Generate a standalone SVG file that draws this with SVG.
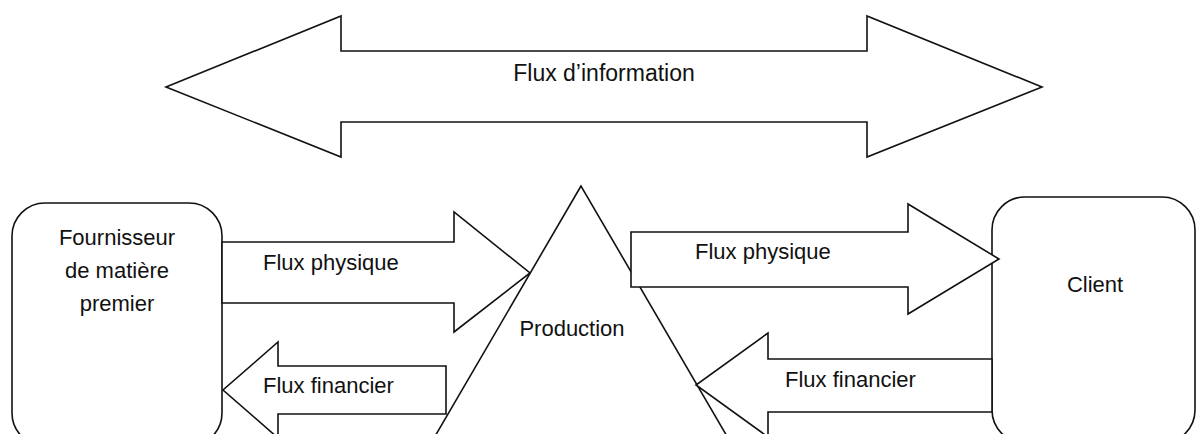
<svg xmlns="http://www.w3.org/2000/svg" width="1197" height="434" viewBox="0 0 1197 434">
<style>
.shape{fill:#fff;stroke:#111;stroke-width:1.6;stroke-linejoin:miter}
.lbl{font-family:"Liberation Sans",Arial,sans-serif;font-size:22px;fill:#111}
.mid{text-anchor:middle}
</style>
<rect width="1197" height="434" fill="#fff"/>
<g id="production">
<polygon class="shape" points="581,186 406,486 756,486"/>
<text class="lbl mid" x="572" y="336">Production</text>
</g>
<g id="fournisseur">
<rect class="shape" x="12" y="203" width="210" height="243" rx="33" ry="33"/>
<text class="lbl mid" x="117" y="245">Fournisseur</text>
<text class="lbl mid" x="117" y="278">de matière</text>
<text class="lbl mid" x="117" y="311">premier</text>
</g>
<g id="client">
<rect class="shape" x="992" y="197" width="203" height="246" rx="33" ry="33"/>
<text class="lbl mid" x="1095" y="292">Client</text>
</g>
<g id="connectors">
<g id="flux-information">
<polygon class="shape" points="166,87 341,16 341,51 867,51 867,16 1042,87 867,157 867,122 341,122 341,157"/>
<text class="lbl mid" x="604" y="81" style="font-size:23px">Flux d’information</text>
</g>
<g id="flux-physique-1">
<polygon class="shape" points="222,242 454,242 454,212 530,273 454,332 454,303 222,303"/>
<text class="lbl" x="263" y="270">Flux physique</text>
</g>
<g id="flux-financier-1">
<polygon class="shape" points="446,366 278,366 278,342 223,390 278,438 278,414 446,414"/>
<text class="lbl" x="263" y="393">Flux financier</text>
</g>
<g id="flux-physique-2">
<polygon class="shape" points="631,232 908,232 908,204 999,259 908,314 908,287 631,287"/>
<text class="lbl" x="695" y="259">Flux physique</text>
</g>
<g id="flux-financier-2">
<polygon class="shape" points="992,359 768,359 768,333 696,385 768,437 768,412 992,412"/>
<text class="lbl" x="785" y="387">Flux financier</text>
</g>
</g>
</svg>
